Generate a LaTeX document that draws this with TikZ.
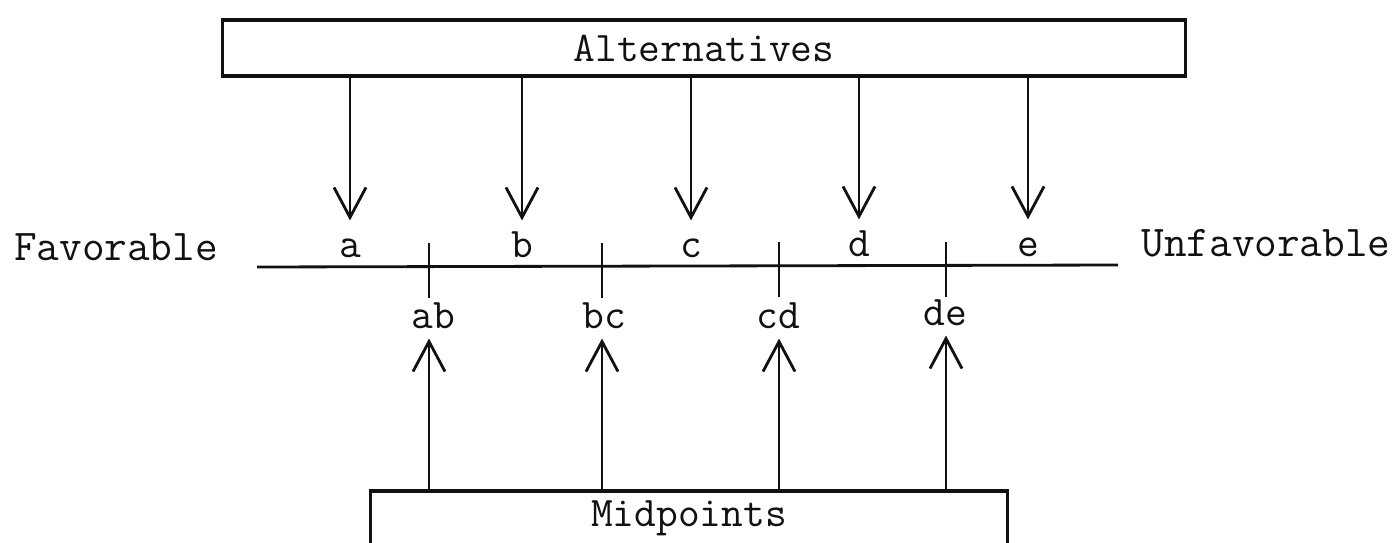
\documentclass[tikz,border=0pt]{standalone}
\usepackage{tikz}
\usetikzlibrary{
  positioning, arrows.meta, calc
}
\definecolor{cInk}{HTML}{111111}
\tikzset{
  box/.style={
    rectangle, draw=cInk, line width=0.9pt, inner sep=0pt,
    font=\ttfamily\fontsize{12}{14}\selectfont, text=cInk
  },
  endlabel/.style={
    font=\ttfamily\fontsize{12.5}{14}\selectfont, text=cInk, anchor=base
  },
  ptlabel/.style={
    font=\ttfamily\fontsize{12}{14}\selectfont, text=cInk, anchor=base,
    text height=7.4pt, text depth=0pt, inner sep=2.8pt
  },
  arrow/.style={-{Straight Barb[length=3mm, width=3.2mm]}, line width=0.8pt, color=cInk},
  scaleline/.style={line width=0.8pt, color=cInk},
  tickmark/.style={line width=0.8pt, color=cInk},
}

\begin{document}
\begin{tikzpicture}[x=0.01cm, y=-0.01cm]
  \useasboundingbox (0,0) rectangle (1396,542);

  \node[box, minimum width=9.62cm, minimum height=0.56cm] (alts) at (704,48) {Alternatives};
  \node[box, minimum width=6.36cm, minimum height=0.54cm] (mids) at (689,518) {Midpoints};

  \node[endlabel] (fav)   at (116,260)  {Favorable};
  \node[endlabel] (unfav) at (1266,256) {Unfavorable};

  % the scale and its midpoint ticks
  \coordinate (lineL) at (257,267);
  \coordinate (lineR) at (1118,265);
  \coordinate (tab) at (429,267);
  \coordinate (tbc) at (602,267);
  \coordinate (tcd) at (779,266);
  \coordinate (tde) at (946,266);

  \node[ptlabel] (a) at (350,257)  {a};
  \node[ptlabel] (b) at (522,257)  {b};
  \node[ptlabel] (c) at (691,257)  {c};
  \node[ptlabel] (d) at (859,256)  {d};
  \node[ptlabel] (e) at (1028,256) {e};

  \node[ptlabel] (ab) at (433,328) {ab};
  \node[ptlabel] (bc) at (604,328) {bc};
  \node[ptlabel] (cd) at (778,328) {cd};
  \node[ptlabel] (de) at (945,325) {de};

  \draw[scaleline] (lineL) -- (lineR);
  \draw[tickmark] ($(tab)+(0,-24)$) -- ($(tab)+(0,31)$);
  \draw[tickmark] ($(tbc)+(0,-24)$) -- ($(tbc)+(0,31)$);
  \draw[tickmark] ($(tcd)+(0,-24)$) -- ($(tcd)+(0,31)$);
  \draw[tickmark] ($(tde)+(0,-24)$) -- ($(tde)+(0,31)$);

  \draw[arrow] (alts.south -| a) -- (a.north);
  \draw[arrow] (alts.south -| b) -- (b.north);
  \draw[arrow] (alts.south -| c) -- (c.north);
  \draw[arrow] (alts.south -| d) -- (d.north);
  \draw[arrow] (alts.south -| e) -- (e.north);

  \draw[arrow] (mids.north -| tab) -- (ab.south -| tab);
  \draw[arrow] (mids.north -| tbc) -- (bc.south -| tbc);
  \draw[arrow] (mids.north -| tcd) -- (cd.south -| tcd);
  \draw[arrow] (mids.north -| tde) -- (de.south -| tde);

\end{tikzpicture}
\end{document}
